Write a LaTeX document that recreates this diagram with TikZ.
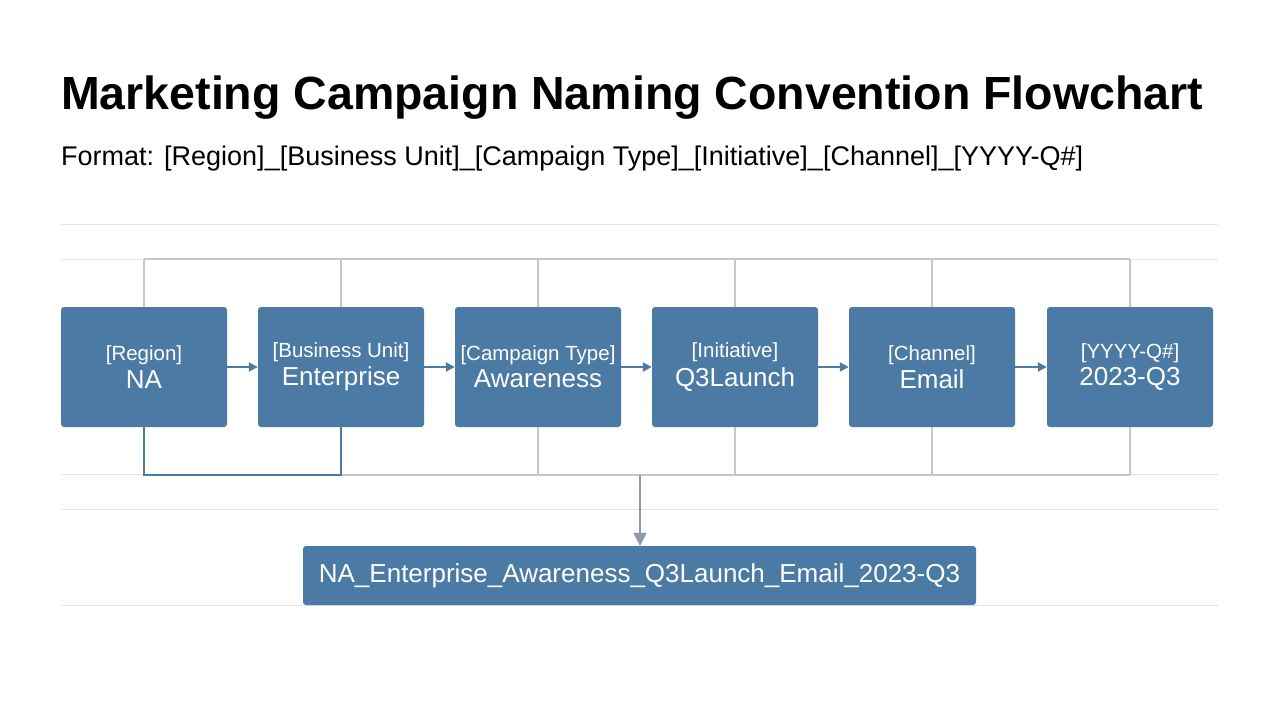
\documentclass[tikz,border=0pt]{standalone}
\usepackage{fontspec}
\setmainfont{Liberation Sans}
\usetikzlibrary{arrows.meta}
\definecolor{boxc}{HTML}{4B7BA5}
\definecolor{gl}{HTML}{C8C8C8}
\definecolor{fl}{HTML}{E4E4E4}
\definecolor{ar}{HTML}{8E9AA6}
\begin{document}
\begin{tikzpicture}[x=1pt,y=-1pt,
  box/.style={fill=boxc,rounded corners=3pt,minimum width=166pt,minimum height=120pt,text=white,align=center,inner sep=0pt},
  conn/.style={gl,line width=1.6pt},
  bconn/.style={boxc,line width=2pt},
  flow/.style={boxc,line width=2pt,-{Triangle[length=9pt,width=9pt]}}]
\useasboundingbox (0,0) rectangle (1280,720);
\fill[white] (0,0) rectangle (1280,720);
\foreach \y in {224,259,474,509,605} \draw[fl,line width=0.8pt] (61,\y) -- (1218,\y);
\node[anchor=west,font=\bfseries\fontsize{46.5}{52}\selectfont,inner sep=0pt] (title) at (61,98) {Marketing Campaign Naming Convention Flowchart};
\node[anchor=west,font=\fontsize{27}{32}\selectfont,inner sep=0pt] (sub) at (61,159) {Format: [Region]\_[Business Unit]\_[Campaign Type]\_[Initiative]\_[Channel]\_[YYYY-Q\#]};
\foreach \n/\x/\a/\b in {a/144/Region/NA,b/341/Business Unit/Enterprise,c/538/Campaign Type/Awareness,d/735/Initiative/Q3Launch,e/932/Channel/Email,f/1130/YYYY-Q\#/2023-Q3}
  \node[box] (\n) at (\x,367) {{\fontsize{20.5}{24}\selectfont [\a]}\\[4pt]{\fontsize{26}{30}\selectfont \b}};
\coordinate (ta) at (144,259); \coordinate (tf) at (1130,259);
\draw[conn] (ta) -- (tf);
\foreach \n in {a,b,c,d,e,f} \draw[conn] (\n.north) -- (\n.north |- ta);
\coordinate (ba) at (144,475); \coordinate (bb) at (341,475); \coordinate (bf) at (1130,475);
\draw[conn] (bb) -- (bf);
\foreach \n in {c,d,e,f} \draw[conn] (\n.south) -- (\n.south |- bb);
\draw[bconn] (a.south) -- (ba) -- (bb) -- (b.south);
\foreach \p/\q in {a/b,b/c,c/d,d/e,e/f} \draw[flow] (\p.east) -- (\q.west);
\node[fill=boxc,rounded corners=3pt,minimum width=673pt,minimum height=59pt,text=white,inner sep=0pt,font=\fontsize{26}{30}\selectfont] (res) at (639.5,575.5) {NA\_Enterprise\_Awareness\_Q3Launch\_Email\_2023-Q3};
\coordinate (src) at (640,475);
\draw[ar,line width=1.6pt,-{Triangle[length=13pt,width=13pt]}] (src) -- (res.north -| src);
\end{tikzpicture}
\end{document}
